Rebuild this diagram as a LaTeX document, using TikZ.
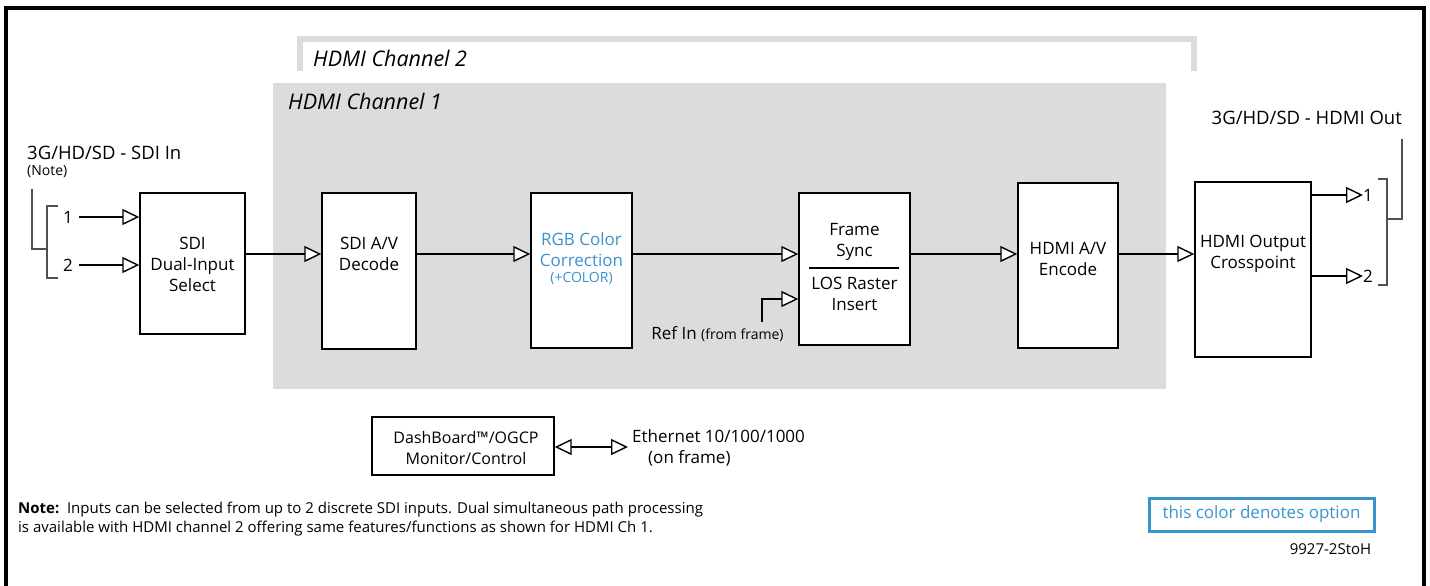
\documentclass[tikz,border=0pt]{standalone}
\usepackage{fontspec}
\setmainfont{Open Sans}
\usetikzlibrary{arrows.meta}
\definecolor{optblue}{HTML}{3A94CB}
\definecolor{chgray}{HTML}{DCDCDC}
\definecolor{brgray}{HTML}{505050}
\newcommand{\bfont}{\fontsize{17}{21}\selectfont}
\newcommand{\lfont}{\fontsize{18.5}{21}\selectfont}
\newcommand{\sfont}{\fontsize{14}{16}\selectfont}
\newcommand{\chfont}{\fontsize{21.5}{24}\selectfont\itshape}
\newcommand{\nfont}{\fontsize{15}{19}\selectfont}
\begin{document}
\begin{tikzpicture}[x=1pt,y=-1pt,
  box/.style={draw,line width=1.4pt,fill=white,inner sep=0pt},
  txt/.style={inner sep=0pt,font=\bfont,align=center},
  conn/.style={line width=1.4pt,-{Triangle[length=17pt,width=16pt,fill=white]}},
  brk/.style={draw=brgray,line width=1.2pt}]
\useasboundingbox (0,0) rectangle (1430,586);
% frame
\draw[line width=4pt] (6,586) -- (6,8) -- (1424,8) -- (1424,586);
% channel 2 bracket
\draw[chgray,line width=6pt] (300,71) -- (300,39) -- (1194,39) -- (1194,71);
\node[txt,font=\chfont,anchor=west] (ch2) at (313,58) {HDMI Channel 2};
% channel 1 background
\node[fill=chgray,inner sep=0pt,minimum width=893,minimum height=306,anchor=north west] (ch1) at (273,83) {};
\node[txt,font=\chfont,anchor=west] (ch1lbl) at (288,101) {HDMI Channel 1};
% input
\node[txt,font=\lfont,anchor=west] (inlbl) at (27,153) {3G/HD/SD - SDI In};
\node[txt,font=\sfont,anchor=west] (note) at (27,172) {(Note)};
\draw[brk] (32,189) -- (32,249) -- (47,249);
\draw[brk] (58,206) -- (47,206) -- (47,278) -- (58,278);
\node[txt] (i1) at (68,217) {1};
\node[txt] (i2) at (68,265) {2};
% blocks
\node[box,minimum width=105,minimum height=141] (sel) at (192.5,263.5) {};
\node[txt] (selt) at (192.5,264) {SDI\\Dual-Input\\Select};
\node[box,minimum width=94,minimum height=156] (dec) at (369,271) {};
\node[txt] (dect) at (369,254) {SDI A/V\\Decode};
\node[box,minimum width=101,minimum height=155] (rgb) at (581.5,270.5) {};
\node[txt,text=optblue] (rgbt) at (581.5,250) {RGB Color\\Correction};
\node[txt,font=\sfont,text=optblue] (rgbc) at (581.5,279) {(+COLOR)};
\node[box,minimum width=111,minimum height=152] (fs) at (854.5,269) {};
\node[txt] (fst) at (854.5,242) {Frame\\Sync};
\node[txt] (fsb) at (854.5,294) {LOS Raster\\Insert};
\draw[line width=1.2pt] (809,268) -- (899,268);
\node[box,minimum width=100,minimum height=165] (enc) at (1068,265.5) {};
\node[txt] (enct) at (1068,259) {HDMI A/V\\Encode};
\node[box,minimum width=116,minimum height=175] (out) at (1253,269.5) {};
\node[txt] (outt) at (1253,254) {HDMI Output\\Crosspoint};
% main connectors
\coordinate (my) at (0,254);
\draw[conn] ([xshift=6pt]i1.east) -- (i1 -| sel.west);
\draw[conn] ([xshift=6pt]i2.east) -- (i2 -| sel.west);
\draw[conn] (sel.east |- my) -- (dec.west |- my);
\draw[conn] (dec.east |- my) -- (rgb.west |- my);
\draw[conn] (rgb.east |- my) -- (fs.west |- my);
\draw[conn] (fs.east |- my) -- (enc.west |- my);
\draw[conn] (enc.east |- my) -- (out.west |- my);
% ref in
\node[txt,anchor=east] (ref) at (697,333) {Ref In};
\node[txt,font=\sfont,anchor=west] (reff) at (701,335) {(from frame)};
\coordinate (refc) at (762,322);
\coordinate (refy) at (0,299);
\draw[conn] (refc) |- (fs.west |- refy);
% outputs
\node[txt,anchor=west] (o1) at (1363,195) {1};
\node[txt,anchor=west] (o2) at (1363,276) {2};
\draw[conn] (out.east |- o1) -- (o1.west);
\draw[conn] (out.east |- o2) -- (o2.west);
\draw[brk] (1378,179) -- (1387,179) -- (1387,285) -- (1378,285);
\draw[brk] (1387,219) -- (1402,219) -- (1402,139);
\node[txt,font=\lfont,anchor=east] (outlbl) at (1402,118) {3G/HD/SD - HDMI Out};
% dashboard
\node[box,minimum width=182,minimum height=58] (dash) at (463,446) {};
\node[txt,font=\fontsize{16}{21}\selectfont] (dasht) at (466,448) {DashBoard™/OGCP\\Monitor/Control};
\node[txt,anchor=west] (eth) at (632,436) {Ethernet 10/100/1000};
\node[txt,anchor=west] (ethf) at (648,458) {(on frame)};
\coordinate (ethc) at (628,447);
\draw[line width=1.4pt,{Triangle[length=17pt,width=16pt,fill=white]}-{Triangle[length=17pt,width=16pt,fill=white]}] (dash.east |- ethc) -- (ethc);
% note
\node[txt,font=\nfont,align=left,anchor=west] (notetxt) at (18,519) {\textbf{Note:}\, Inputs can be selected from up to 2 discrete SDI inputs. Dual simultaneous path processing\\is available with HDMI channel 2 offering same features/functions as shown for HDMI Ch 1.};
% option legend
\node[draw=optblue,line width=3pt,text=optblue,font=\bfont,inner sep=0pt,minimum width=225,minimum height=33] (opt) at (1261.5,514.5) {this color denotes option};
\node[txt,font=\fontsize{15}{18}\selectfont] (fig) at (1330.5,549) {9927-2StoH};
\end{tikzpicture}
\end{document}
